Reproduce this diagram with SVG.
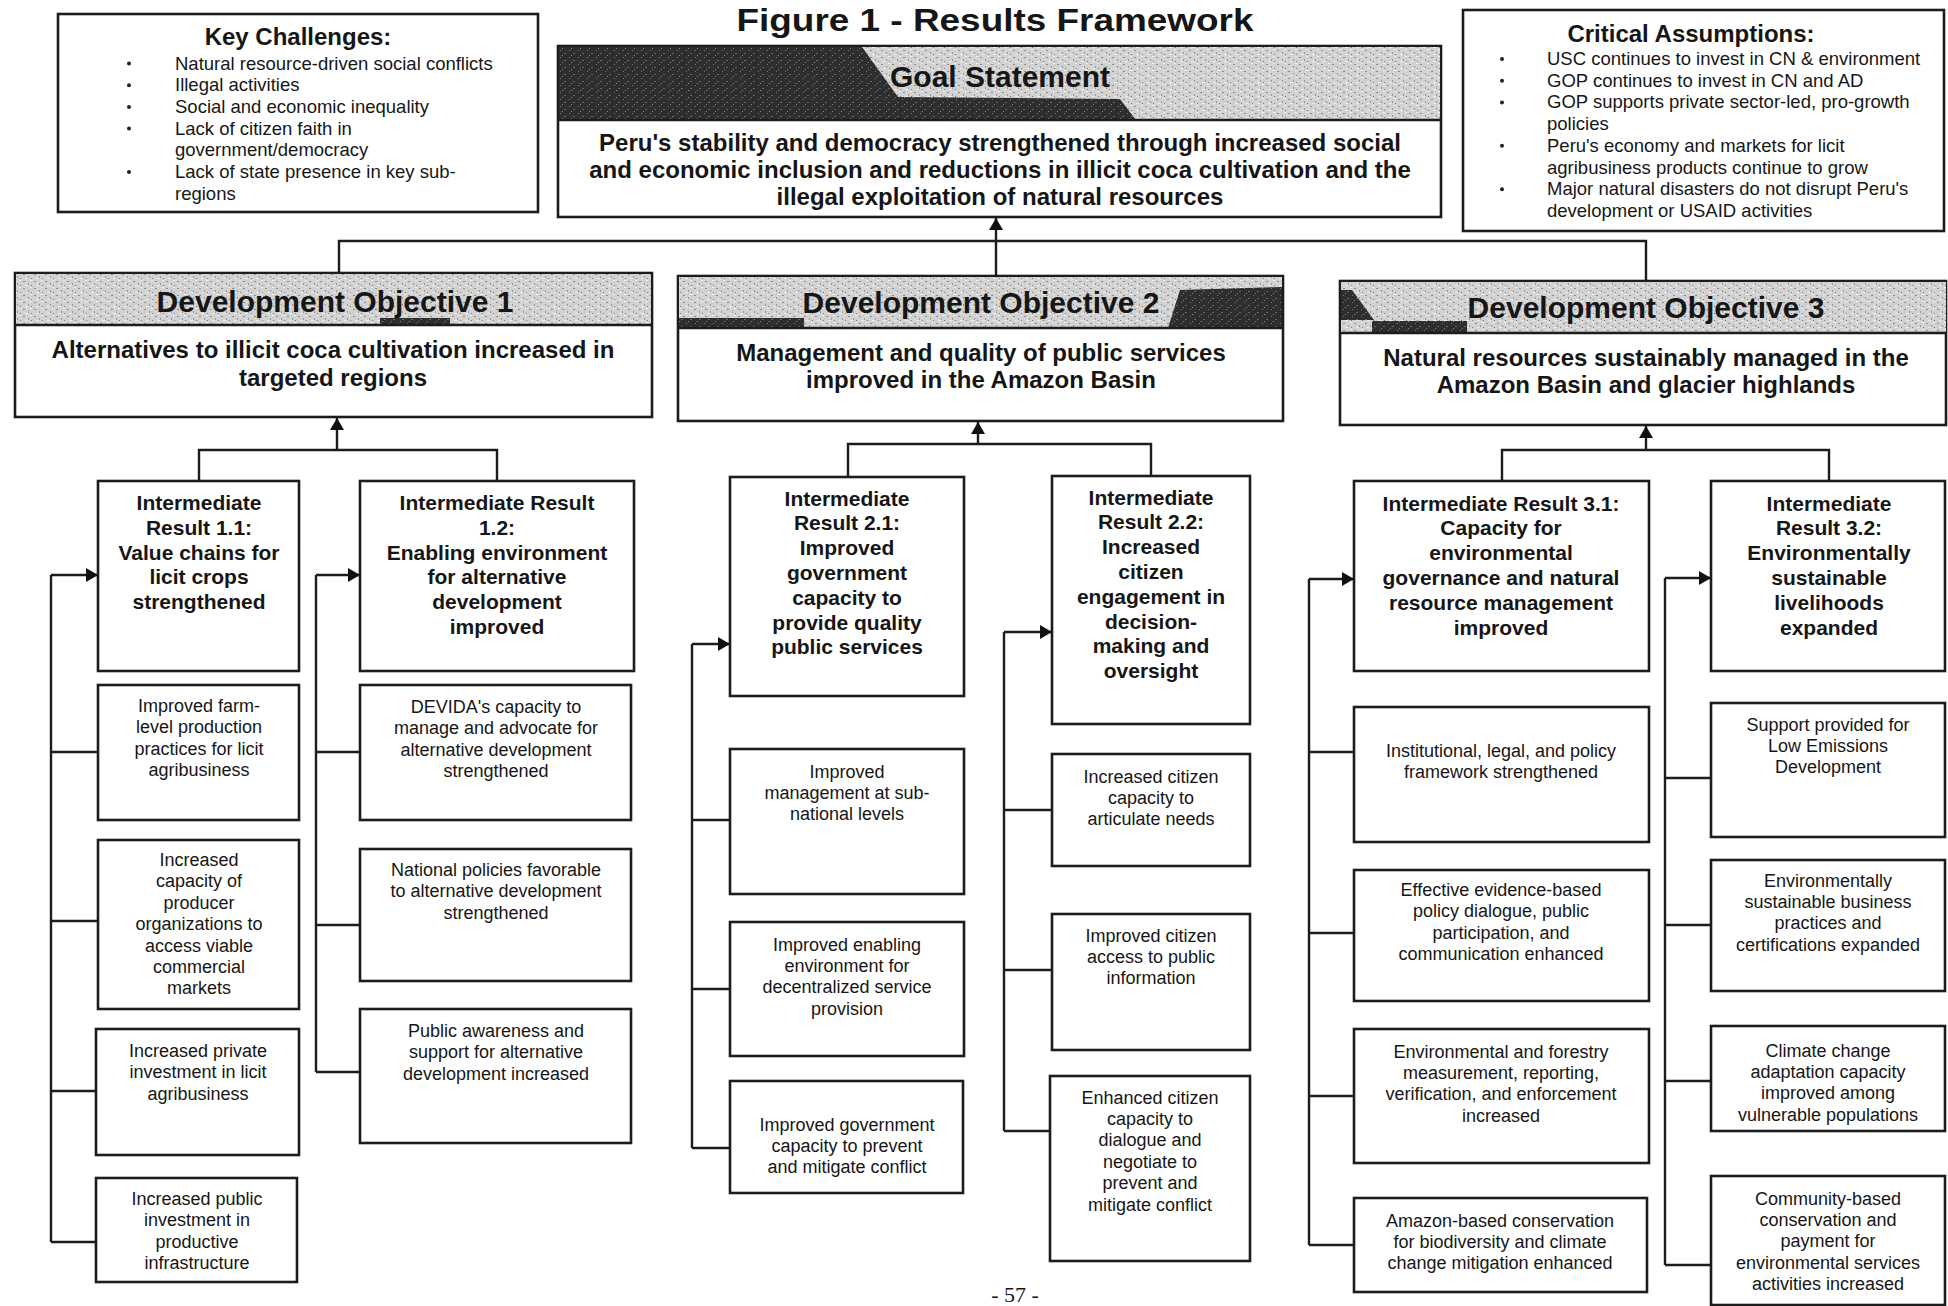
<svg xmlns="http://www.w3.org/2000/svg" width="1948" height="1306" viewBox="0 0 1948 1306">
<style>
.bx{fill:#fff;stroke:#1c1c1c;stroke-width:2.6}
.ln{fill:none;stroke:#1c1c1c;stroke-width:2.4}
.ar{fill:none;stroke:#1c1c1c;stroke-width:2.4;marker-end:url(#arr)}
.hl{stroke:#1c1c1c;stroke-width:2.6}
text{font-family:"Liberation Sans",Arial,sans-serif;fill:#161616}
.c{text-anchor:middle}
.ttl{font-size:31px;font-weight:bold}
.hd{font-size:30px;font-weight:bold}
.gb{font-size:24px;font-weight:bold}
.ir{font-size:21px;font-weight:bold}
.sb{font-size:18px}
.kt{font-size:24px;font-weight:bold}
.kl{font-size:18.5px}
.pg{font-family:"Liberation Serif","Times New Roman",serif;font-size:22px}
.dot{fill:#222}
</style>
<defs>
<pattern id="lt" width="11" height="7" patternUnits="userSpaceOnUse">
<rect width="11" height="7" fill="#d2d2d2"/>
<rect x="1" y="1" width="2" height="1" fill="#8c8c8c"/>
<rect x="6" y="3" width="1" height="2" fill="#9a9a9a"/>
<rect x="8" y="0" width="2" height="1" fill="#efefef"/>
<rect x="3" y="5" width="3" height="1" fill="#ececec"/>
<rect x="9" y="5" width="1" height="1" fill="#7a7a7a"/>
</pattern>
<pattern id="dk" width="9" height="7" patternUnits="userSpaceOnUse">
<rect width="9" height="7" fill="#2e2e2e"/>
<rect x="2" y="1" width="1" height="1" fill="#777"/>
<rect x="6" y="4" width="2" height="1" fill="#666"/>
<rect x="4" y="6" width="1" height="1" fill="#888"/>
</pattern>
<marker id="arr" viewBox="0 0 12 14" refX="12" refY="7" markerWidth="12" markerHeight="14" markerUnits="userSpaceOnUse" orient="auto">
<path d="M0,0 L12,7 L0,14 Z" fill="#111"/>
</marker>
</defs>
<rect width="1948" height="1306" fill="#fff"/>

<text class="ttl c" x="995" y="31" textLength="517" lengthAdjust="spacingAndGlyphs">Figure 1 - Results Framework</text>

<g id="key-challenges">
<rect class="bx" x="58" y="14" width="480" height="198"/>
<text class="kt c" x="298" y="45">Key Challenges:</text>
<circle class="dot" cx="129" cy="63.5" r="2"/>
<circle class="dot" cx="129" cy="85.2" r="2"/>
<circle class="dot" cx="129" cy="106.9" r="2"/>
<circle class="dot" cx="129" cy="128.6" r="2"/>
<circle class="dot" cx="129" cy="172" r="2"/>
<text class="kl" x="175" y="69.5">Natural resource-driven social conflicts</text>
<text class="kl" x="175" y="91.2">Illegal activities</text>
<text class="kl" x="175" y="112.9">Social and economic inequality</text>
<text class="kl" x="175" y="134.6">Lack of citizen faith in</text>
<text class="kl" x="175" y="156.3">government/democracy</text>
<text class="kl" x="175" y="178">Lack of state presence in key sub-</text>
<text class="kl" x="175" y="199.7">regions</text>
</g>

<g id="critical-assumptions">
<rect class="bx" x="1463" y="10" width="481" height="221"/>
<text class="kt c" x="1691" y="42">Critical Assumptions:</text>
<circle class="dot" cx="1502" cy="59" r="2"/>
<circle class="dot" cx="1502" cy="80.7" r="2"/>
<circle class="dot" cx="1502" cy="102.4" r="2"/>
<circle class="dot" cx="1502" cy="145.8" r="2"/>
<circle class="dot" cx="1502" cy="189.2" r="2"/>
<text class="kl" x="1547" y="65">USC continues to invest in CN &amp; environment</text>
<text class="kl" x="1547" y="86.7">GOP continues to invest in CN and AD</text>
<text class="kl" x="1547" y="108.4">GOP supports private sector-led, pro-growth</text>
<text class="kl" x="1547" y="130.1">policies</text>
<text class="kl" x="1547" y="151.8">Peru's economy and markets for licit</text>
<text class="kl" x="1547" y="173.5">agribusiness products continue to grow</text>
<text class="kl" x="1547" y="195.2">Major natural disasters do not disrupt Peru's</text>
<text class="kl" x="1547" y="216.9">development or USAID activities</text>
</g>

<g id="goal">
<rect class="bx" x="558" y="46" width="883" height="171"/>
<rect x="559" y="47" width="881" height="73" fill="url(#lt)"/>
<polygon points="559,47 862,47 898,97 1120,99 1136,120 559,120" fill="url(#dk)"/>
<line class="hl" x1="558" y1="120" x2="1441" y2="120"/>
<text class="hd c" x="1000" y="87">Goal Statement</text>
<text class="gb c" x="1000" y="151">Peru's stability and democracy strengthened through increased social</text>
<text class="gb c" x="1000" y="178">and economic inclusion and reductions in illicit coca cultivation and the</text>
<text class="gb c" x="1000" y="205">illegal exploitation of natural resources</text>
</g>

<g id="do1">
<rect class="bx" x="15" y="273" width="637" height="144"/>
<rect x="16" y="274" width="635" height="51" fill="url(#lt)"/>
<rect x="380" y="318" width="70" height="7" fill="url(#dk)"/>
<line class="hl" x1="15" y1="325" x2="652" y2="325"/>
<text class="hd c" x="335" y="312">Development Objective 1</text>
<text class="gb c" x="333" y="358">Alternatives to illicit coca cultivation increased in</text>
<text class="gb c" x="333" y="386">targeted regions</text>
</g>

<g id="do2">
<rect class="bx" x="678" y="276" width="605" height="145"/>
<rect x="679" y="277" width="603" height="51" fill="url(#lt)"/>
<polygon points="1180,290 1282,287 1282,328 1168,328" fill="url(#dk)"/>
<rect x="679" y="318" width="125" height="10" fill="url(#dk)"/>
<line class="hl" x1="678" y1="328" x2="1283" y2="328"/>
<text class="hd c" x="981" y="313">Development Objective 2</text>
<text class="gb c" x="981" y="361">Management and quality of public services</text>
<text class="gb c" x="981" y="388">improved in the Amazon Basin</text>
</g>

<g id="do3">
<rect class="bx" x="1340" y="281" width="606" height="144"/>
<rect x="1341" y="282" width="605" height="51" fill="url(#lt)"/>
<polygon points="1341,290 1352,290 1374,320 1341,320" fill="url(#dk)"/>
<rect x="1372" y="321" width="95" height="11" fill="url(#dk)"/>
<line class="hl" x1="1340" y1="333" x2="1946" y2="333"/>
<text class="hd c" x="1646" y="318">Development Objective 3</text>
<text class="gb c" x="1646" y="366">Natural resources sustainably managed in the</text>
<text class="gb c" x="1646" y="393">Amazon Basin and glacier highlands</text>
</g>

<g id="ir1-1">
<rect class="bx" x="98" y="481" width="201" height="190"/>
<text class="ir c" x="199" y="510"><tspan x="199">Intermediate</tspan><tspan x="199" dy="24.8">Result 1.1:</tspan><tspan x="199" dy="24.8">Value chains for</tspan><tspan x="199" dy="24.8">licit crops</tspan><tspan x="199" dy="24.8">strengthened</tspan></text>
</g>
<g id="ir1-1-a">
<rect class="bx" x="98" y="685" width="201" height="135"/>
<text class="sb c" x="199" y="712"><tspan x="199">Improved farm-</tspan><tspan x="199" dy="21.4">level production</tspan><tspan x="199" dy="21.4">practices for licit</tspan><tspan x="199" dy="21.4">agribusiness</tspan></text>
</g>
<g id="ir1-1-b">
<rect class="bx" x="98" y="840" width="201" height="169"/>
<text class="sb c" x="199" y="866"><tspan x="199">Increased</tspan><tspan x="199" dy="21.4">capacity of</tspan><tspan x="199" dy="21.4">producer</tspan><tspan x="199" dy="21.4">organizations to</tspan><tspan x="199" dy="21.4">access viable</tspan><tspan x="199" dy="21.4">commercial</tspan><tspan x="199" dy="21.4">markets</tspan></text>
</g>
<g id="ir1-1-c">
<rect class="bx" x="96" y="1029" width="203" height="126"/>
<text class="sb c" x="198" y="1057"><tspan x="198">Increased private</tspan><tspan x="198" dy="21.4">investment in licit</tspan><tspan x="198" dy="21.4">agribusiness</tspan></text>
</g>
<g id="ir1-1-d">
<rect class="bx" x="96" y="1178" width="201" height="104"/>
<text class="sb c" x="197" y="1205"><tspan x="197">Increased public</tspan><tspan x="197" dy="21.4">investment in</tspan><tspan x="197" dy="21.4">productive</tspan><tspan x="197" dy="21.4">infrastructure</tspan></text>
</g>

<g id="ir1-2">
<rect class="bx" x="360" y="481" width="274" height="190"/>
<text class="ir c" x="497" y="510"><tspan x="497">Intermediate Result</tspan><tspan x="497" dy="24.8">1.2:</tspan><tspan x="497" dy="24.8">Enabling environment</tspan><tspan x="497" dy="24.8">for alternative</tspan><tspan x="497" dy="24.8">development</tspan><tspan x="497" dy="24.8">improved</tspan></text>
</g>
<g id="ir1-2-a">
<rect class="bx" x="360" y="685" width="271" height="135"/>
<text class="sb c" x="496" y="713"><tspan x="496">DEVIDA's capacity to</tspan><tspan x="496" dy="21.4">manage and advocate for</tspan><tspan x="496" dy="21.4">alternative development</tspan><tspan x="496" dy="21.4">strengthened</tspan></text>
</g>
<g id="ir1-2-b">
<rect class="bx" x="360" y="849" width="271" height="132"/>
<text class="sb c" x="496" y="876"><tspan x="496">National policies favorable</tspan><tspan x="496" dy="21.4">to alternative development</tspan><tspan x="496" dy="21.4">strengthened</tspan></text>
</g>
<g id="ir1-2-c">
<rect class="bx" x="360" y="1009" width="271" height="134"/>
<text class="sb c" x="496" y="1037"><tspan x="496">Public awareness and</tspan><tspan x="496" dy="21.4">support for alternative</tspan><tspan x="496" dy="21.4">development increased</tspan></text>
</g>

<g id="ir2-1">
<rect class="bx" x="730" y="477" width="234" height="219"/>
<text class="ir c" x="847" y="505.5"><tspan x="847">Intermediate</tspan><tspan x="847" dy="24.8">Result 2.1:</tspan><tspan x="847" dy="24.8">Improved</tspan><tspan x="847" dy="24.8">government</tspan><tspan x="847" dy="24.8">capacity to</tspan><tspan x="847" dy="24.8">provide quality</tspan><tspan x="847" dy="24.8">public services</tspan></text>
</g>
<g id="ir2-1-a">
<rect class="bx" x="730" y="749" width="234" height="145"/>
<text class="sb c" x="847" y="777.5"><tspan x="847">Improved</tspan><tspan x="847" dy="21.4">management at sub-</tspan><tspan x="847" dy="21.4">national levels</tspan></text>
</g>
<g id="ir2-1-b">
<rect class="bx" x="730" y="922" width="234" height="134"/>
<text class="sb c" x="847" y="950.5"><tspan x="847">Improved enabling</tspan><tspan x="847" dy="21.4">environment for</tspan><tspan x="847" dy="21.4">decentralized service</tspan><tspan x="847" dy="21.4">provision</tspan></text>
</g>
<g id="ir2-1-c">
<rect class="bx" x="730" y="1081" width="233" height="112"/>
<text class="sb c" x="847" y="1130.5"><tspan x="847">Improved government</tspan><tspan x="847" dy="21.4">capacity to prevent</tspan><tspan x="847" dy="21.4">and mitigate conflict</tspan></text>
</g>

<g id="ir2-2">
<rect class="bx" x="1052" y="476" width="198" height="248"/>
<text class="ir c" x="1151" y="504.5"><tspan x="1151">Intermediate</tspan><tspan x="1151" dy="24.8">Result 2.2:</tspan><tspan x="1151" dy="24.8">Increased</tspan><tspan x="1151" dy="24.8">citizen</tspan><tspan x="1151" dy="24.8">engagement in</tspan><tspan x="1151" dy="24.8">decision-</tspan><tspan x="1151" dy="24.8">making and</tspan><tspan x="1151" dy="24.8">oversight</tspan></text>
</g>
<g id="ir2-2-a">
<rect class="bx" x="1052" y="754" width="198" height="112"/>
<text class="sb c" x="1151" y="782.5"><tspan x="1151">Increased citizen</tspan><tspan x="1151" dy="21.4">capacity to</tspan><tspan x="1151" dy="21.4">articulate needs</tspan></text>
</g>
<g id="ir2-2-b">
<rect class="bx" x="1052" y="914" width="198" height="136"/>
<text class="sb c" x="1151" y="941.5"><tspan x="1151">Improved citizen</tspan><tspan x="1151" dy="21.4">access to public</tspan><tspan x="1151" dy="21.4">information</tspan></text>
</g>
<g id="ir2-2-c">
<rect class="bx" x="1050" y="1076" width="200" height="185"/>
<text class="sb c" x="1150" y="1103.5"><tspan x="1150">Enhanced citizen</tspan><tspan x="1150" dy="21.4">capacity to</tspan><tspan x="1150" dy="21.4">dialogue and</tspan><tspan x="1150" dy="21.4">negotiate to</tspan><tspan x="1150" dy="21.4">prevent and</tspan><tspan x="1150" dy="21.4">mitigate conflict</tspan></text>
</g>

<g id="ir3-1">
<rect class="bx" x="1354" y="481" width="295" height="190"/>
<text class="ir c" x="1501" y="510.5"><tspan x="1501">Intermediate Result 3.1:</tspan><tspan x="1501" dy="24.8">Capacity for</tspan><tspan x="1501" dy="24.8">environmental</tspan><tspan x="1501" dy="24.8">governance and natural</tspan><tspan x="1501" dy="24.8">resource management</tspan><tspan x="1501" dy="24.8">improved</tspan></text>
</g>
<g id="ir3-1-a">
<rect class="bx" x="1354" y="707" width="295" height="135"/>
<text class="sb c" x="1501" y="756.5"><tspan x="1501">Institutional, legal, and policy</tspan><tspan x="1501" dy="21.4">framework strengthened</tspan></text>
</g>
<g id="ir3-1-b">
<rect class="bx" x="1354" y="870" width="295" height="131"/>
<text class="sb c" x="1501" y="896"><tspan x="1501">Effective evidence-based</tspan><tspan x="1501" dy="21.4">policy dialogue, public</tspan><tspan x="1501" dy="21.4">participation, and</tspan><tspan x="1501" dy="21.4">communication enhanced</tspan></text>
</g>
<g id="ir3-1-c">
<rect class="bx" x="1354" y="1029" width="295" height="134"/>
<text class="sb c" x="1501" y="1057.5"><tspan x="1501">Environmental and forestry</tspan><tspan x="1501" dy="21.4">measurement, reporting,</tspan><tspan x="1501" dy="21.4">verification, and enforcement</tspan><tspan x="1501" dy="21.4">increased</tspan></text>
</g>
<g id="ir3-1-d">
<rect class="bx" x="1354" y="1198" width="293" height="94"/>
<text class="sb c" x="1500" y="1226.5"><tspan x="1500">Amazon-based conservation</tspan><tspan x="1500" dy="21.4">for biodiversity and climate</tspan><tspan x="1500" dy="21.4">change mitigation enhanced</tspan></text>
</g>

<g id="ir3-2">
<rect class="bx" x="1711" y="481" width="234" height="190"/>
<text class="ir c" x="1829" y="510.5"><tspan x="1829">Intermediate</tspan><tspan x="1829" dy="24.8">Result 3.2:</tspan><tspan x="1829" dy="24.8">Environmentally</tspan><tspan x="1829" dy="24.8">sustainable</tspan><tspan x="1829" dy="24.8">livelihoods</tspan><tspan x="1829" dy="24.8">expanded</tspan></text>
</g>
<g id="ir3-2-a">
<rect class="bx" x="1711" y="703" width="234" height="134"/>
<text class="sb c" x="1828" y="730.5"><tspan x="1828">Support provided for</tspan><tspan x="1828" dy="21.4">Low Emissions</tspan><tspan x="1828" dy="21.4">Development</tspan></text>
</g>
<g id="ir3-2-b">
<rect class="bx" x="1711" y="860" width="234" height="131"/>
<text class="sb c" x="1828" y="886.5"><tspan x="1828">Environmentally</tspan><tspan x="1828" dy="21.4">sustainable business</tspan><tspan x="1828" dy="21.4">practices and</tspan><tspan x="1828" dy="21.4">certifications expanded</tspan></text>
</g>
<g id="ir3-2-c">
<rect class="bx" x="1711" y="1026" width="234" height="105"/>
<text class="sb c" x="1828" y="1056.5"><tspan x="1828">Climate change</tspan><tspan x="1828" dy="21.4">adaptation capacity</tspan><tspan x="1828" dy="21.4">improved among</tspan><tspan x="1828" dy="21.4">vulnerable populations</tspan></text>
</g>
<g id="ir3-2-d">
<rect class="bx" x="1711" y="1176" width="234" height="129"/>
<text class="sb c" x="1828" y="1204.5"><tspan x="1828">Community-based</tspan><tspan x="1828" dy="21.4">conservation and</tspan><tspan x="1828" dy="21.4">payment for</tspan><tspan x="1828" dy="21.4">environmental services</tspan><tspan x="1828" dy="21.4">activities increased</tspan></text>
</g>

<g id="connectors">
<path class="ln" d="M339,273 V241 H1646 V281 M996,241 V276"/>
<line class="ar" x1="996" y1="241" x2="996" y2="218"/>
<path class="ln" d="M199,481 V450 H497 V481"/>
<line class="ar" x1="337" y1="450" x2="337" y2="418"/>
<path class="ln" d="M51,575 V1242 M51,752 H98 M51,921 H98 M51,1091 H96 M51,1242 H96"/>
<line class="ar" x1="51" y1="575" x2="98" y2="575"/>
<path class="ln" d="M316,575 V1072 M316,752 H360 M316,925 H360 M316,1072 H360"/>
<line class="ar" x1="316" y1="575" x2="360" y2="575"/>
<path class="ln" d="M848,477 V444 H1151 V476"/>
<line class="ar" x1="978" y1="444" x2="978" y2="422"/>
<path class="ln" d="M692,644 V1148 M692,820 H730 M692,989 H730 M692,1148 H730"/>
<line class="ar" x1="692" y1="644" x2="730" y2="644"/>
<path class="ln" d="M1004,632 V1131 M1004,810 H1052 M1004,970 H1052 M1004,1131 H1050"/>
<line class="ar" x1="1004" y1="632" x2="1052" y2="632"/>
<path class="ln" d="M1502,481 V450 H1829 V481"/>
<line class="ar" x1="1646" y1="450" x2="1646" y2="426"/>
<path class="ln" d="M1309,579 V1245 M1309,752 H1354 M1309,933 H1354 M1309,1096 H1354 M1309,1245 H1354"/>
<line class="ar" x1="1309" y1="579" x2="1354" y2="579"/>
<path class="ln" d="M1665,578 V1265 M1665,778 H1711 M1665,925 H1711 M1665,1081 H1711 M1665,1265 H1711"/>
<line class="ar" x1="1665" y1="578" x2="1711" y2="578"/>
</g>

<text class="pg c" x="1015" y="1302">- 57 -</text>
</svg>
